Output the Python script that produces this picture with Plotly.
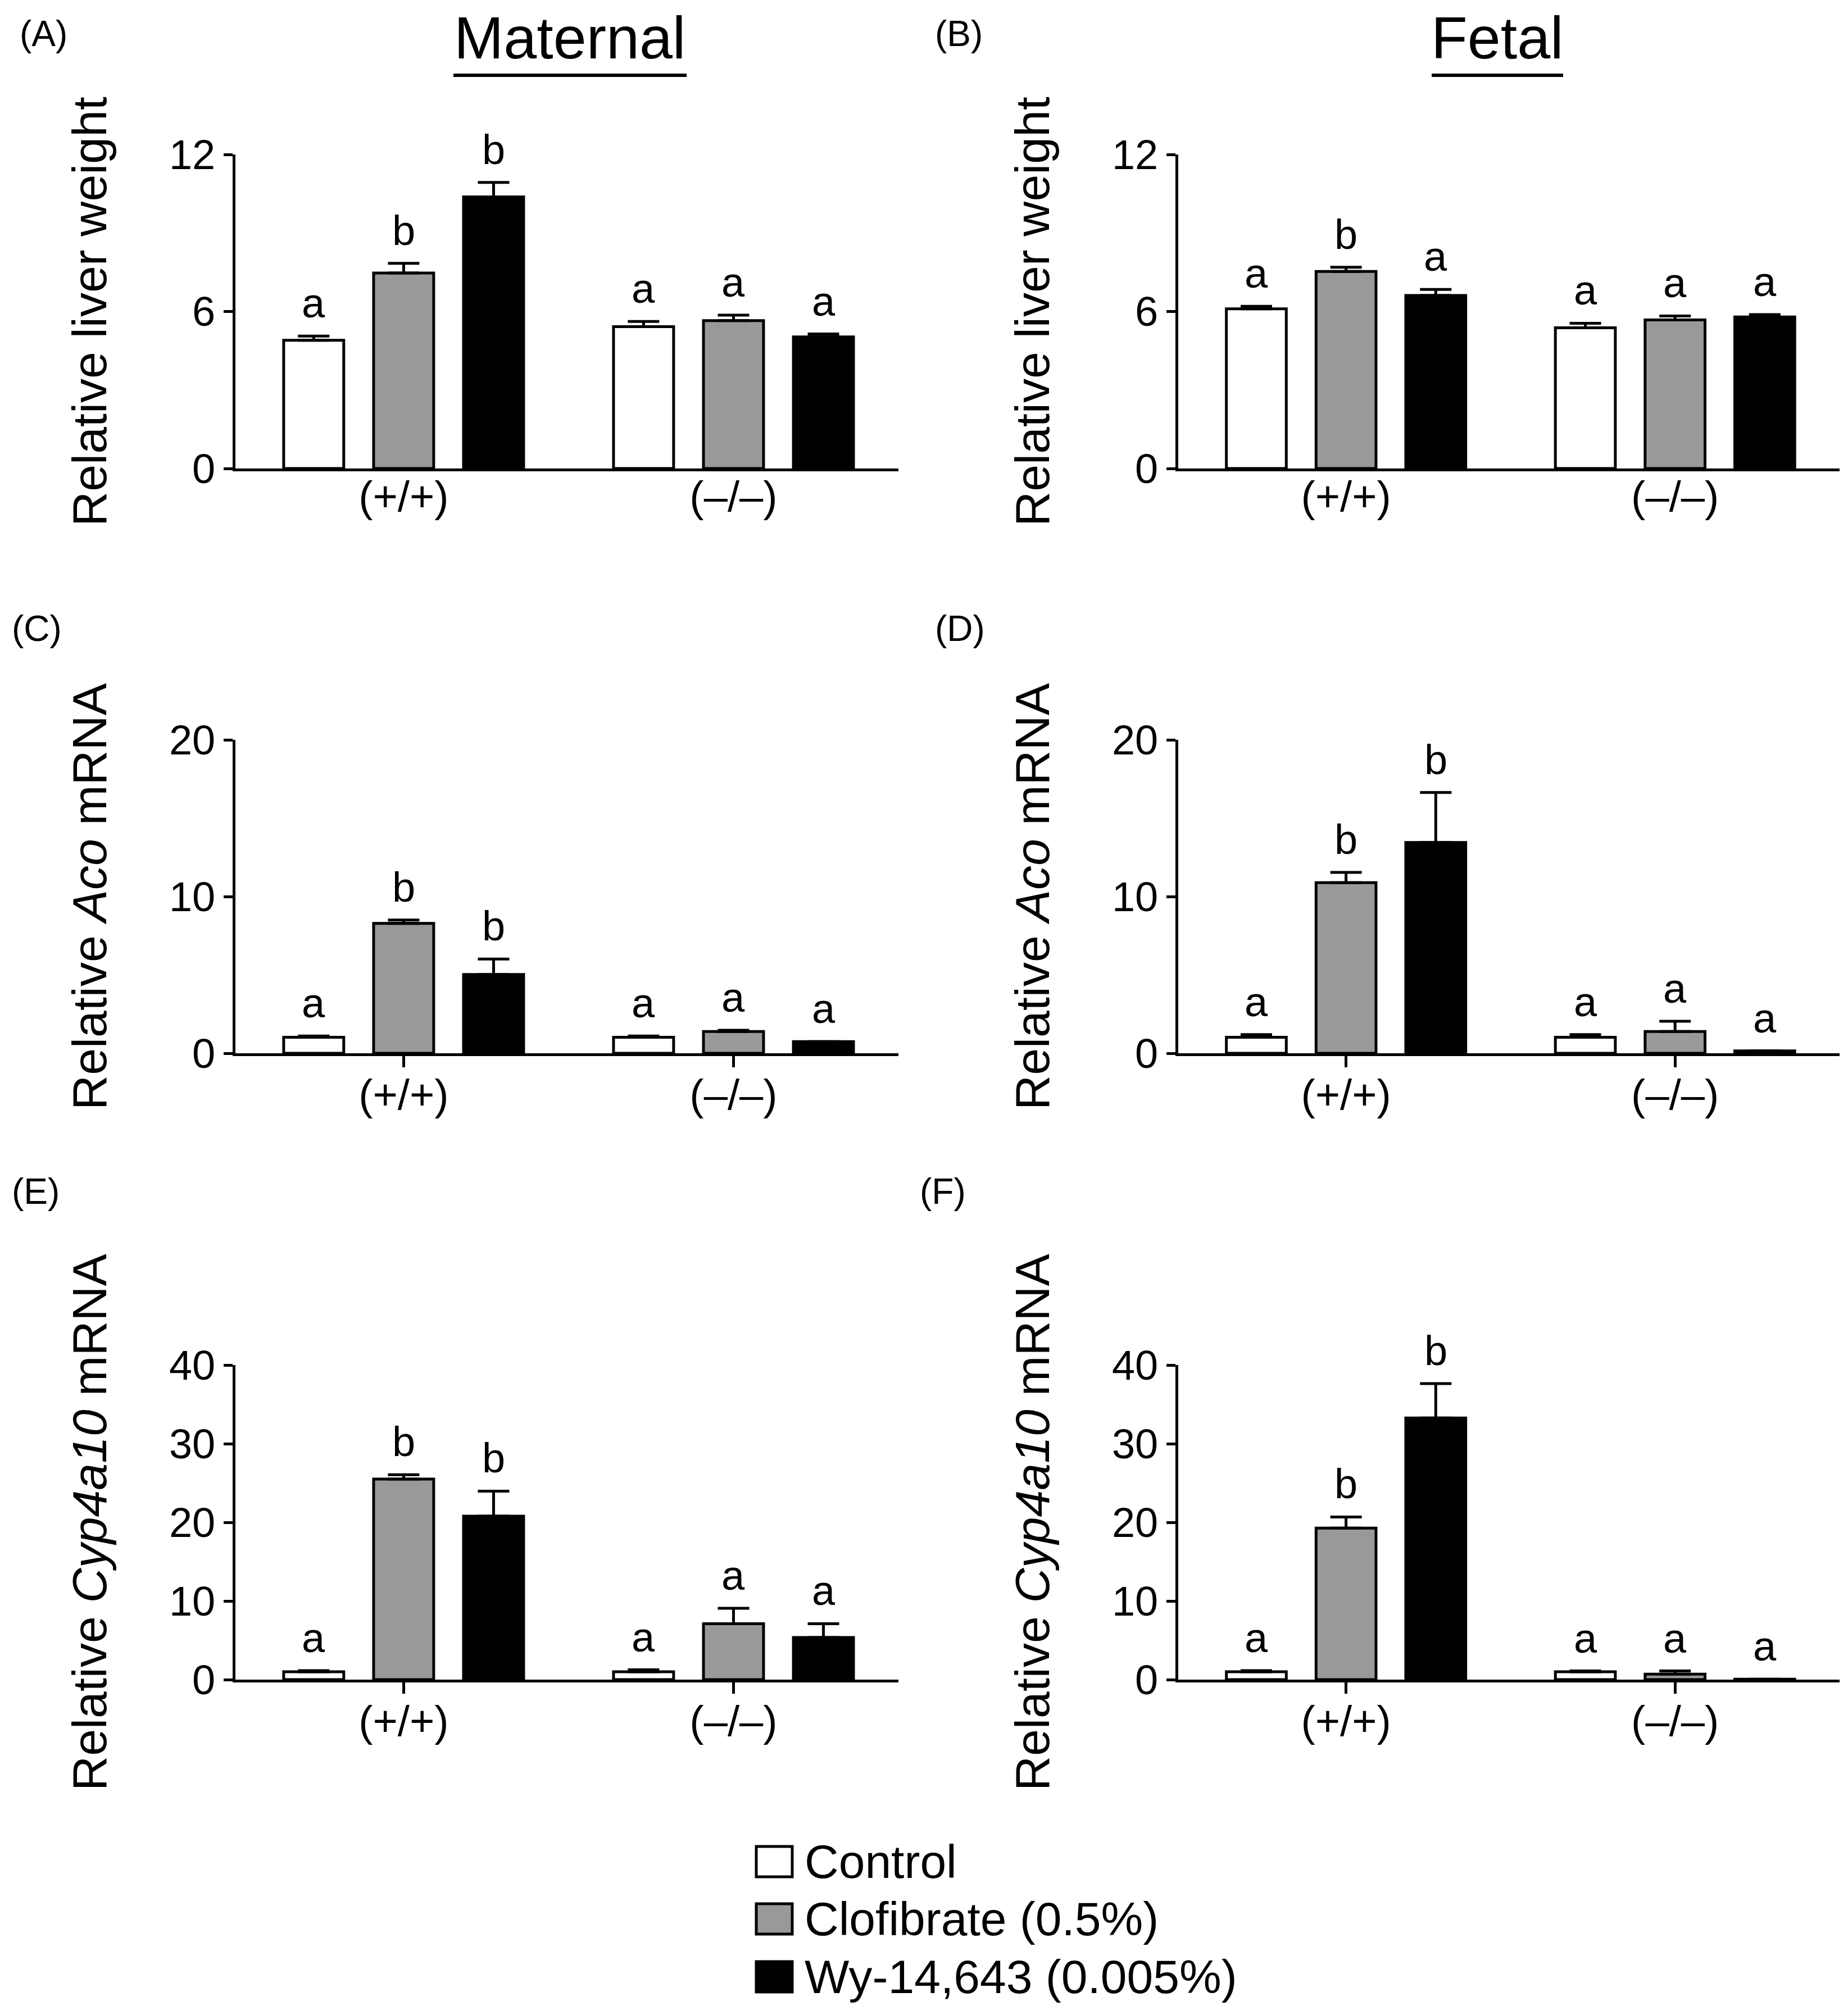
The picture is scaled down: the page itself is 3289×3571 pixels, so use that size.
import plotly.graph_objects as go

# ---------------- data ----------------
groups = ["(+/+)", "(\u2013/\u2013)"]
treatments = ["Control", "Clofibrate (0.5%)", "Wy-14,643 (0.005%)"]
fills = ["#ffffff", "#999999", "#000000"]

# rows: Control, Clofibrate, Wy-14,643 ; columns: (+/+), (-/-)
A_mean = [[4.90, 5.42], [7.47, 5.65], [10.38, 5.03]]
A_sem = [[0.16, 0.20], [0.37, 0.21], [0.55, 0.11]]
A_let = [["a", "a"], ["b", "a"], ["b", "a"]]

B_mean = [[6.10, 5.38], [7.53, 5.68], [6.61, 5.79]]
B_sem = [[0.10, 0.17], [0.16, 0.15], [0.23, 0.09]]
B_let = [["a", "a"], ["b", "a"], ["a", "a"]]

C_mean = [[1.02, 1.02], [8.29, 1.39], [5.03, 0.74]]
C_sem = [[0.08, 0.08], [0.21, 0.08], [0.98, 0.0]]
C_let = [["a", "a"], ["b", "a"], ["b", "a"]]

D_mean = [[1.02, 1.02], [10.89, 1.39], [13.45, 0.15]]
D_sem = [[0.17, 0.17], [0.65, 0.65], [3.19, 0.0]]
D_let = [["a", "a"], ["b", "a"], ["b", "a"]]

E_mean = [[1.00, 1.00], [25.5, 7.11], [20.79, 5.36]]
E_sem = [[0.15, 0.25], [0.55, 1.97], [3.18, 1.75]]
E_let = [["a", "a"], ["b", "a"], ["b", "a"]]

F_mean = [[1.00, 1.00], [19.26, 0.70], [33.27, 0.05]]
F_sem = [[0.15, 0.10], [1.42, 0.40], [4.38, 0.0]]
F_let = [["a", "a"], ["b", "a"], ["b", "a"]]

liver_ticks = [0, 6, 12]
aco_ticks = [0, 10, 20]
cyp_ticks = [0, 10, 20, 30, 40]

# ---------------- layout helpers ----------------
W, H = 3289, 3571
PAGE_OFFSET = 8  # default body margin of the html page
FONT = "Liberation Sans, Arial, Helvetica, sans-serif"
BARGAP = 0.182
BARGROUPGAP = 0.332
LW = 5


def fx(px):
    return (px - PAGE_OFFSET) / W


def fy(py):
    return 1 - (py - PAGE_OFFSET) / H


col_x = [(419, 1599), (2097, 3274)]
row_y = [(275, 834), (1317, 1875), (2430, 2990)]

panels = [
    ("A", A_mean, A_sem, A_let, liver_ticks, "Relative liver weight", 0, 0, False),
    ("B", B_mean, B_sem, B_let, liver_ticks, "Relative liver weight", 0, 1, False),
    ("C", C_mean, C_sem, C_let, aco_ticks, "Relative <i>Aco</i> mRNA", 1, 0, True),
    ("D", D_mean, D_sem, D_let, aco_ticks, "Relative <i>Aco</i> mRNA", 1, 1, True),
    ("E", E_mean, E_sem, E_let, cyp_ticks, "Relative <i>Cyp4a10</i> mRNA", 2, 0, True),
    ("F", F_mean, F_sem, F_let, cyp_ticks, "Relative <i>Cyp4a10</i> mRNA", 2, 1, True),
]

fig = go.Figure()
annotations = []
shapes = []
slot = (1 - BARGAP) / len(treatments)

for k, (lab, means, sems, lets, yt, ytitle, r, c, xticks) in enumerate(panels):
    n = "" if k == 0 else str(k + 1)
    xa, ya = "x" + n, "y" + n
    for i, t in enumerate(treatments):
        fig.add_trace(go.Bar(
            x=groups, y=means[i], name=t, xaxis=xa, yaxis=ya,
            offsetgroup=str(i), showlegend=False,
            marker=dict(color=fills[i], line=dict(color="black", width=LW)),
            error_y=dict(type="data", array=sems[i], arrayminus=[0] * len(groups),
                         symmetric=False, color="black", thickness=LW, width=28),
        ))
        off = -(1 - BARGAP) / 2 + slot * (i + 0.5)
        for g in range(len(groups)):
            annotations.append(dict(
                x=g + off, y=means[i][g] + sems[i][g], xref=xa, yref=ya,
                text=lets[i][g], showarrow=False, yanchor="bottom", yshift=15,
                font=dict(family=FONT, size=74, color="black")))
    x0, x1 = col_x[c]
    y0, y1 = row_y[r]
    fig.layout["xaxis" + n] = dict(
        domain=[fx(x0), fx(x1)], anchor=ya, type="category", automargin=False,
        range=[-0.51, 1.5], showline=True, linewidth=LW, linecolor="black",
        ticks="outside" if xticks else "", ticklen=20, tickwidth=LW,
        tickcolor="black", ticklabelstandoff=-16 if xticks else -20,
        tickfont=dict(family=FONT, size=76, color="black"),
        showgrid=False, zeroline=False, fixedrange=True)
    fig.layout["yaxis" + n] = dict(
        domain=[fy(y1), fy(y0)], anchor=xa, range=[0, yt[-1]], automargin=False,
        tickvals=yt, ticks="outside", ticklen=16, tickwidth=LW,
        tickcolor="black", showline=True, linewidth=LW, linecolor="black",
        tickfont=dict(family=FONT, size=74, color="black"),
        title=dict(text=ytitle, font=dict(family=FONT, size=86, color="black"),
                   standoff=84),
        showgrid=False, zeroline=False, fixedrange=True)

# panel letters
label_pos = {"A": (33, 22), "B": (1662, 22), "C": (19, 1081),
             "D": (1662, 1081), "E": (19, 2083), "F": (1635, 2083)}
for lab, (px, py) in label_pos.items():
    annotations.append(dict(x=fx(px), y=fy(py), xref="paper", yref="paper",
                            text="(" + lab + ")", showarrow=False,
                            xanchor="left", yanchor="top",
                            font=dict(family=FONT, size=64, color="black")))

# column titles with underline
for txt, cx, ux0, ux1 in [("Maternal", 1014, 807, 1222), ("Fetal", 2665, 2548, 2782)]:
    annotations.append(dict(x=fx(cx), y=fy(128), xref="paper", yref="paper",
                            text=txt, showarrow=False, xanchor="center",
                            yanchor="bottom",
                            font=dict(family=FONT, size=106, color="black")))
    shapes.append(dict(type="line", xref="paper", yref="paper",
                       x0=fx(ux0), x1=fx(ux1), y0=fy(134), y1=fy(134),
                       line=dict(color="black", width=6)))

# legend
leg_rows = [3314, 3416, 3519]
for i, t in enumerate(treatments):
    cy = leg_rows[i]
    shapes.append(dict(type="rect", xref="paper", yref="paper",
                       x0=fx(1346), x1=fx(1410), y0=fy(cy + 27), y1=fy(cy - 27),
                       fillcolor=fills[i], line=dict(color="black", width=LW)))
    annotations.append(dict(x=fx(1430), y=fy(cy), xref="paper", yref="paper",
                            text=t, showarrow=False, xanchor="left",
                            yanchor="middle",
                            font=dict(family=FONT, size=84, color="black")))

fig.update_layout(
    width=W, height=H,
    margin=dict(l=0, r=0, t=0, b=0, pad=0, autoexpand=False),
    paper_bgcolor="white", plot_bgcolor="white",
    barmode="group", bargap=BARGAP, bargroupgap=BARGROUPGAP,
    annotations=annotations, shapes=shapes, showlegend=False,
    font=dict(family=FONT, color="black"),
)

fig.write_html("out.html")
